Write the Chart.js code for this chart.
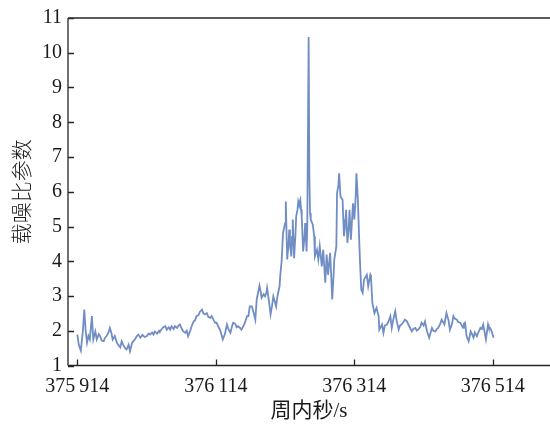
<!DOCTYPE html>
<html>
<head>
<meta charset="utf-8">
<script src="https://cdn.jsdelivr.net/npm/chart.js@4/dist/chart.umd.min.js"></script>
<style>
  html, body { margin: 0; padding: 0; background: #ffffff; }
  #wrap { width: 550px; height: 425px; position: relative; }
</style>
</head>
<body>
<div id="wrap"><canvas id="c" width="550" height="425"></canvas></div>
<script>
// Time of week (s)
const seconds = [
375914,375916,375919,375922,375924,375926,375928,375930,375932,375935,
375937,375940,375942,375945,375947,375949,375952,375954,375956,375959,
375961,375963,375965,375968,375971,375973,375976,375978,375980,375983,
375985,375988,375990,375993,375995,375997,376000,376002,376005,376008,
376011,376014,376017,376019,376022,376024,376026,376029,376032,376033,
376036,376038,376041,376043,376046,376048,376050,376053,376055,376058,
376060,376062,376065,376067,376070,376072,376074,376077,376079,376082,
376084,376086,376089,376091,376094,376096,376098,376101,376103,376106,
376108,376111,376113,376115,376118,376120,376122,376124,376127,376130,
376132,376135,376137,376139,376142,376144,376146,376149,376151,376154,
376156,376159,376161,376163,376166,376168,376171,376173,376175,376177,
376179,376180,376183,376185,376187,376188,376191,376193,376195,376197,
376199,376201,376203,376206,376207,376209,376210,376211,376213,376214,
376215,376217,376219,376220,376221,376223,376224,376225,376226,376227,
376229,376230,376232,376233,376234,376236,376237,376238,376239,376240,
376242,376243,376244,376245,376246,376248,376249,376250,376251,376254,
376256,376257,376260,376262,376264,376267,376269,376272,376274,376276,
376279,376281,376282,376284,376285,376288,376289,376291,376292,376294,
376297,376298,376299,376301,376302,376304,376306,376307,376309,376312,
376314,376316,376317,376319,376320,376322,376324,376326,376328,376332,
376334,376337,376338,376340,376343,376346,376349,376350,376354,376356,
376358,376361,376363,376366,376368,376370,376373,376375,376378,376380,
376382,376385,376387,376390,376392,376394,376397,376399,376402,376404,
376406,376409,376411,376414,376416,376419,376422,376426,376428,376431,
376433,376435,376438,376440,376444,376447,376450,376452,376455,376457,
376459,376462,376464,376467,376469,376471,376472,376474,376476,376479,
376482,376484,376486,376488,376491,376493,376496,376498,376500,376504,
376507,376508,376510,376512,376515
];
// Carrier-to-noise ratio parameter
const cnr = [
1.89,1.60,1.43,2.00,2.61,2.00,1.66,1.85,1.75,2.42,
1.75,1.98,1.75,1.90,1.84,1.72,1.70,1.80,1.84,1.95,
2.08,1.95,1.75,1.85,1.66,1.60,1.52,1.70,1.60,1.50,
1.46,1.60,1.41,1.65,1.70,1.75,1.85,1.89,1.80,1.88,
1.82,1.84,1.92,1.89,1.95,1.89,1.98,1.92,2.00,1.98,
2.05,2.10,2.13,2.03,2.10,2.03,2.13,2.05,2.13,2.08,
2.15,2.18,2.05,1.98,1.94,2.00,1.84,2.00,2.13,2.27,
2.30,2.42,2.45,2.55,2.61,2.50,2.47,2.51,2.40,2.37,
2.42,2.30,2.23,2.23,2.10,2.03,1.90,1.75,1.90,2.18,
2.05,1.94,2.10,2.23,2.20,2.10,2.13,2.08,2.03,2.15,
2.23,2.42,2.42,2.70,2.70,2.56,2.32,2.90,3.10,3.30,
3.10,2.95,3.05,2.99,3.10,3.23,2.80,2.47,2.70,2.99,
2.85,2.70,3.00,3.28,3.60,4.00,4.40,4.81,5.00,5.10,
5.72,4.05,4.50,4.91,4.50,4.14,4.70,5.20,4.60,4.09,
4.80,5.29,5.50,5.72,5.65,5.77,5.50,5.29,4.80,4.28,
4.70,5.10,4.70,4.28,5.00,10.45,6.50,5.39,5.20,5.05,
4.72,4.14,4.33,4.05,4.43,3.85,4.33,3.38,4.19,3.61,
4.24,3.40,2.90,3.60,4.05,4.43,5.96,6.20,6.53,5.86,
5.77,5.20,4.72,5.10,5.48,4.53,5.00,5.48,4.62,5.67,
5.20,5.90,6.53,5.80,5.20,4.05,3.18,3.09,3.47,3.61,
3.28,3.61,3.55,2.80,2.51,2.66,2.42,2.03,2.18,1.94,
2.15,2.18,2.25,2.42,2.08,2.30,2.56,2.30,2.03,2.15,
2.18,2.25,2.32,2.27,2.18,2.10,1.98,2.05,2.08,2.00,
2.03,2.10,2.23,2.15,2.27,1.98,1.80,2.08,2.00,1.98,
2.05,2.08,2.20,2.32,2.18,2.51,2.30,2.03,2.20,2.42,
2.35,2.32,2.25,2.23,2.15,2.08,2.20,2.23,1.84,1.70,
1.98,1.90,1.80,1.95,1.84,1.95,2.08,2.05,2.18,1.75,
2.18,2.10,2.08,2.00,1.80
];
const xTickValues = [375914, 376114, 376314, 376514];
const yTickValues = [1,2,3,4,5,6,7,8,9,10,11];
const xTitle = '周内秒/s';
const yTitle = '载噪比参数';

const fmt = v => {
  const s = String(v);
  return s.slice(0, 3) + '\u2009' + s.slice(3);
};

const frameColor = '#262626';

const framePlugin = {
  id: 'frame',
  afterDatasetsDraw(chart) {
    const ctx = chart.ctx;
    const a = chart.chartArea;
    const xs = chart.scales.x, ys = chart.scales.y;
    ctx.save();
    ctx.strokeStyle = frameColor;
    ctx.lineWidth = 1.3;
    ctx.beginPath();
    ctx.moveTo(a.left, a.top); ctx.lineTo(a.right + 2, a.top);
    ctx.moveTo(a.left, a.top); ctx.lineTo(a.left, a.bottom);
    ctx.moveTo(a.left, a.bottom); ctx.lineTo(a.right + 2, a.bottom);
    yTickValues.forEach(v => {
      const py = Math.round(ys.getPixelForValue(v)) + 0.5;
      ctx.moveTo(a.left, py); ctx.lineTo(a.left + 6, py);
    });
    xTickValues.forEach(v => {
      const px = Math.round(xs.getPixelForValue(v)) + 0.5;
      ctx.moveTo(px, a.bottom); ctx.lineTo(px, a.bottom - 6);
    });
    ctx.stroke();
    ctx.restore();
  }
};

new Chart(document.getElementById('c'), {
  type: 'line',
  data: {
    datasets: [{
      data: seconds.map((s, i) => ({ x: s, y: cnr[i] })),
      borderColor: 'rgb(112,141,196)',
      borderWidth: 1.8,
      pointRadius: 0,
      tension: 0,
      fill: false
    }]
  },
  options: {
    responsive: false,
    animation: false,
    layout: { padding: { top: 18, right: 0, bottom: 1, left: 0 } },
    plugins: { legend: { display: false }, tooltip: { enabled: false } },
    scales: {
      x: {
        type: 'linear',
        min: 375900.5,
        max: 376596.5,
        afterBuildTicks: s => { s.ticks = xTickValues.map(v => ({ value: v })); },
        afterFit: s => { s.height = 58.5; },
        grid: { display: false, drawTicks: false },
        border: { display: false },
        ticks: {
          autoSkip: false,
          maxRotation: 0,
          padding: 9,
          color: '#1a1a1a',
          font: { family: "'Liberation Serif', 'Times New Roman', serif", size: 20 },
          callback: v => fmt(v)
        },
        title: {
          display: true,
          text: xTitle,
          color: '#1a1a1a',
          padding: { top: 0, bottom: 0 },
          font: { family: "'Liberation Serif', 'Noto Sans CJK SC', serif", size: 21 }
        }
      },
      y: {
        min: 1,
        max: 11,
        afterBuildTicks: s => { s.ticks = yTickValues.map(v => ({ value: v })); },
        afterFit: s => { s.width = 68; },
        grid: { display: false, drawTicks: false },
        border: { display: false },
        ticks: {
          padding: 6,
          color: '#1a1a1a',
          font: { family: "'Liberation Serif', 'Times New Roman', serif", size: 20 }
        },
        title: {
          display: true,
          text: yTitle,
          color: '#1a1a1a',
          padding: { top: 8, bottom: 0 },
          font: { family: "'Noto Sans CJK SC', sans-serif", size: 21, weight: '300' }
        }
      }
    }
  },
  plugins: [framePlugin]
});
</script>
</body>
</html>
